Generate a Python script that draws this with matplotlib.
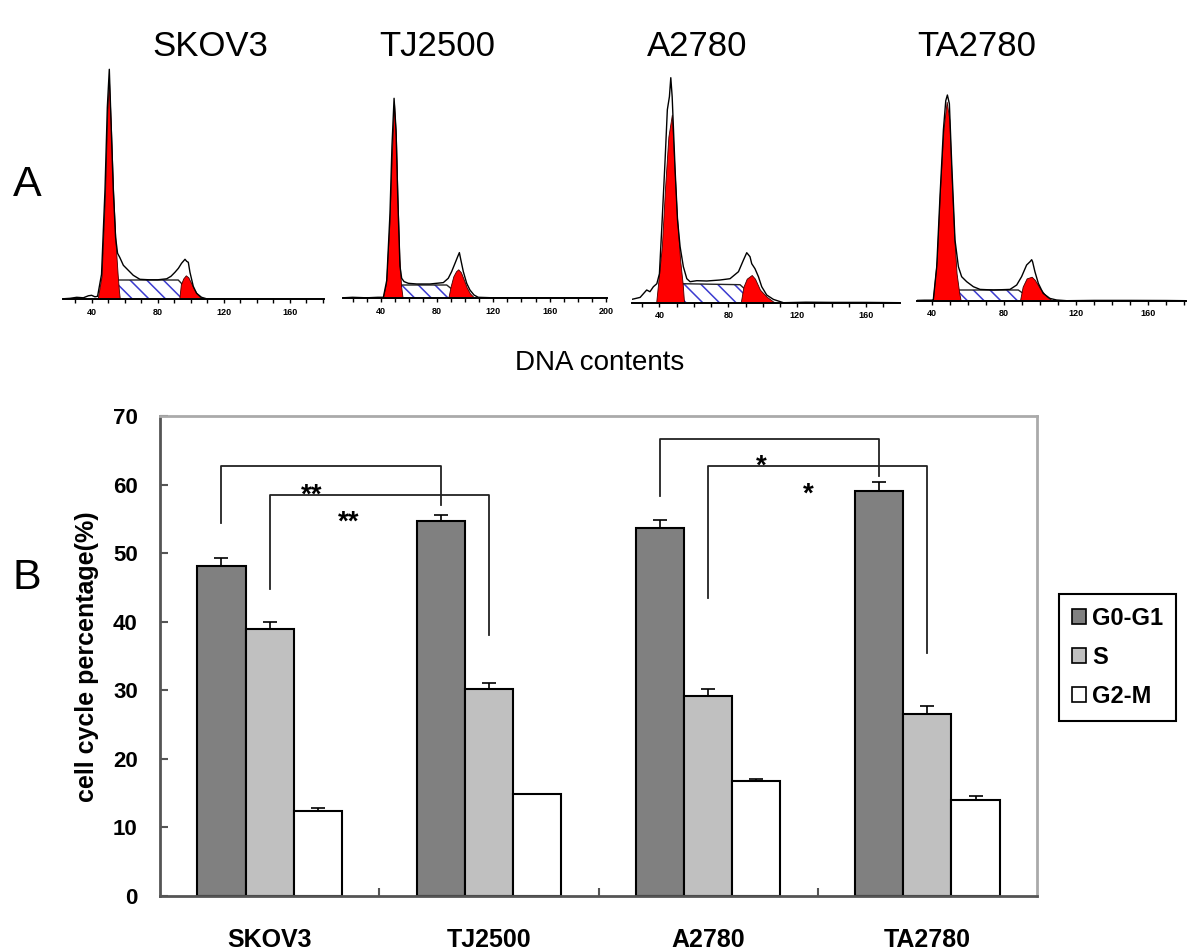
import matplotlib
matplotlib.use("Agg")
import matplotlib.pyplot as plt
from matplotlib.patches import Patch
from matplotlib.ticker import MultipleLocator

plt.rcParams['font.family'] = ['Liberation Sans', 'DejaVu Sans']
plt.rcParams['hatch.linewidth'] = 1.1

# ---------------- data: panel B (bar chart) ----------------
cell_lines = ['SKOV3', 'TJ2500', 'A2780', 'TA2780']
phases = ['G0-G1', 'S', 'G2-M']
g0g1 = [48.1, 54.7, 53.6, 59.0]
g0g1_err = [1.2, 0.9, 1.2, 1.4]
s_phase = [38.9, 30.2, 29.2, 26.6]
s_err = [1.1, 0.9, 1.0, 1.1]
g2m = [12.4, 14.9, 16.8, 14.0]
g2m_err = [0.5, 0.0, 0.2, 0.6]
y_ticks = [0, 10, 20, 30, 40, 50, 60, 70]

# significance brackets: (group a, phase, group b, phase, top, left end, right end)
brackets = [
    (0, 0, 1, 0, 62.7, 54.4, 57.0),
    (0, 1, 1, 1, 58.5, 44.8, 38.1),
    (2, 0, 3, 0, 66.6, 58.4, 61.3),
    (2, 1, 3, 1, 62.7, 43.5, 35.4),
]
stars = [('**', 0.19, 59.8), ('**', 0.36, 55.9), ('*', 2.243, 64.0), ('*', 2.456, 59.9)]

# ---------------- data: panel A (DNA histograms, channel vs counts) ----------------
hist_titles = ['SKOV3', 'TJ2500', 'A2780', 'TA2780']

skov3_raw_x = [22.5, 27, 31, 35, 38, 40, 42, 43.6, 46.0, 48.1, 49.5, 50.7, 51.7, 53.1, 54.5, 55.7, 57.0, 59.2,
               62.2, 65.2, 69.2, 75.0, 80.0, 85.4, 88.0, 90.4, 92.5, 94.4, 96.5, 97.5, 98.5, 99.5, 101.5, 103.5,
               106.5, 109.6, 115, 130, 150, 180.6]
skov3_raw_y = [0.5, 1.0, 2.0, 1.5, 3.5, 4.0, 2.5, 3.0, 25, 110, 192, 230, 180, 110, 62, 46, 42, 34,
               29, 24, 20, 19.5, 19.5, 20.5, 23, 27, 31, 36, 40, 38, 37, 27, 13, 6,
               2, 0.5, 0.3, 0.2, 0.1, 0]
skov3_g1_x = [43.6, 46.0, 48.1, 49.5, 50.5, 51.7, 53.1, 54.5, 55.7, 56.5, 57.1]
skov3_g1_y = [0, 23, 106, 189, 219, 173, 106, 56, 26, 9, 0]
skov3_s_x = [48.1, 55.1, 92.4, 103.5]
skov3_s_y = [0, 19.3, 19.3, 0]
skov3_g2_x = [93.0, 94.0, 95.5, 97.0, 98.5, 100.0, 102.0, 104.0, 106.0, 108.0]
skov3_g2_y = [0, 15, 21, 24, 22, 17, 10, 5, 1.5, 0]

tj2500_raw_x = [13, 20, 30, 38, 41.9, 44.3, 46.6, 48.0, 49.5, 50.9, 52.1, 53.7, 54.9, 56.6, 59.6, 65.6, 75.0,
                84.5, 88.0, 90.4, 92.8, 94.7, 95.9, 97.0, 98.7, 101.1, 103.4, 106.3, 109.3, 120, 140, 160, 180, 201]
tj2500_raw_y = [0.5, 1, 0.5, 1, 1, 18, 85, 152, 200, 168, 102, 32, 20, 16.7, 15, 14.3, 14.3,
                15.7, 20, 26.7, 35, 41.7, 45.7, 38, 26.7, 15, 8.3, 3.3, 1, 0.5, 0.5, 0.3, 0.2, 0]
tj2500_g1_x = [41.4, 43.8, 46.2, 47.8, 49.5, 50.9, 52.1, 53.3, 54.5, 55.6]
tj2500_g1_y = [0, 15, 75, 140, 195, 160, 95, 40, 12, 0]
tj2500_s_x = [49.0, 54.9, 86.9, 98.7]
tj2500_s_y = [0, 13.3, 13.3, 0]
tj2500_g2_x = [88.0, 89.7, 91.6, 93.5, 95.1, 97.0, 98.7, 101.1, 103.4, 105.8, 107.7]
tj2500_g2_y = [0, 12, 22, 27, 29, 26, 20, 11, 5, 1.5, 0]

a2780_raw_x = [23.9, 28.8, 32.6, 34.5, 36.5, 38.5, 40, 41.4, 43.3, 44.6, 45.8, 46.6, 47.4, 48.1, 49.1, 50.5,
               52.0, 53.9, 55.9, 57.8, 61.7, 67.5, 75.2, 81.0, 85.9, 88.8, 90.7, 92.6, 93.6, 95.5, 97.5, 99.4,
               102.3, 106.2, 112.0, 125, 140, 160, 179.7]
a2780_raw_y = [3.3, 5.3, 12.7, 11, 16, 19, 29, 76, 143, 193, 206, 225, 206, 176, 133, 83,
               56, 36, 24, 21, 22, 21.7, 22.7, 24, 31, 42.7, 50, 46, 39, 34, 26, 16,
               7.7, 3.3, 0, 0.5, 0.3, 0.3, 0]
a2780_g1_x = [38.1, 41.4, 43.3, 45.2, 47.2, 48.5, 50.1, 52.0, 53.5, 54.3]
a2780_g1_y = [0, 56, 116, 166, 188, 143, 89, 43, 19, 0]
a2780_s_x = [46.2, 53.0, 86.8, 98.4]
a2780_s_y = [0, 19, 18, 0]
a2780_g2_x = [87.2, 88.8, 90.7, 93.6, 95.5, 98.4, 102.3, 106.2, 108.1]
a2780_g2_y = [0, 16, 24, 27.7, 24, 13, 6, 1, 0]

ta2780_raw_x = [31.7, 36, 40.0, 40.9, 42.8, 44.6, 46.5, 47.8, 48.7, 49.8, 51.1, 52.9, 54.8, 56.6, 59.4, 63.1,
                66.8, 74.2, 83.4, 87.1, 89.8, 92.6, 94.5, 95.4, 95.9, 97.2, 99.1, 101.8, 105.5, 109.2, 114.8,
                130, 150, 170, 180.9]
ta2780_raw_y = [0.3, 0.5, 0.5, 1, 34, 104, 171, 200, 205.7, 197, 137, 61, 34, 24, 19, 14,
                11.3, 10.7, 11.3, 15.7, 24, 35.7, 39, 41, 39, 29, 17.3, 7.3, 2.3, 0.7, 0,
                0.3, 0.3, 0.2, 0]
ta2780_g1_x = [40.6, 42.8, 44.6, 46.5, 48.3, 49.8, 51.1, 52.6, 53.8, 55.3, 56.1]
ta2780_g1_y = [0, 40.7, 110.7, 170.7, 199, 180.7, 120.7, 60.7, 27.3, 7.3, 0]
ta2780_s_x = [47.4, 52.9, 88.0, 96.3]
ta2780_s_y = [0, 10.7, 10.7, 0]
ta2780_g2_x = [88.9, 90.4, 92.6, 95.4, 97.2, 100.0, 103.7, 106.5, 108.3]
ta2780_g2_y = [0, 14, 22.3, 24, 20.7, 12.3, 4, 0.7, 0]

hist_data = [
    (skov3_raw_x, skov3_raw_y, skov3_g1_x, skov3_g1_y, skov3_s_x, skov3_s_y, skov3_g2_x, skov3_g2_y),
    (tj2500_raw_x, tj2500_raw_y, tj2500_g1_x, tj2500_g1_y, tj2500_s_x, tj2500_s_y, tj2500_g2_x, tj2500_g2_y),
    (a2780_raw_x, a2780_raw_y, a2780_g1_x, a2780_g1_y, a2780_s_x, a2780_s_y, a2780_g2_x, a2780_g2_y),
    (ta2780_raw_x, ta2780_raw_y, ta2780_g1_x, ta2780_g1_y, ta2780_s_x, ta2780_s_y, ta2780_g2_x, ta2780_g2_y),
]
hist_xlims = [(22.5, 180.6), (13, 201), (23.9, 179.7), (31.7, 180.9)]
hist_ticklabels = [[40, 80, 120, 160], [40, 80, 120, 160, 200], [40, 80, 120, 160], [40, 80, 120, 160]]

# ---------------- layout (pixels in a 1200x951 canvas) ----------------
W, H = 1200, 951
fig = plt.figure(figsize=(W / 100, H / 100), dpi=100)

def fx(px):
    return px / W

def fy(py):
    return 1 - py / H

hist_boxes = [(62.7, 324.0, 299.3), (342.7, 607.3, 298.3), (631.7, 900.0, 302.7), (916.7, 1186.0, 300.7)]
hist_title_x = [210, 437, 697, 977]
HTOP = 240

for i, (x0, x1, base) in enumerate(hist_boxes):
    ax = fig.add_axes([fx(x0), fy(base), (x1 - x0) / W, HTOP / H])
    rx, ry, g1x, g1y, sx, sy, g2x, g2y = hist_data[i]
    ax.fill_between(sx, sy, 0, facecolor='white', edgecolor='#3b3bd0', hatch='\\\\', linewidth=0, zorder=1)
    ax.plot(sx, sy, color='#222222', lw=1.0, zorder=1.5)
    ax.fill_between(g1x, g1y, 0, facecolor='#ff0000', edgecolor='#400000', linewidth=0.6, zorder=2)
    ax.fill_between(g2x, g2y, 0, facecolor='#ff0000', edgecolor='#400000', linewidth=0.6, zorder=2)
    ax.plot(rx, ry, color='black', lw=1.0, zorder=3)
    ax.set_xlim(*hist_xlims[i])
    ax.set_ylim(0, HTOP)
    for sp in ['left', 'right', 'top']:
        ax.spines[sp].set_visible(False)
    ax.spines['bottom'].set_linewidth(1.4)
    ax.set_yticks([])
    ax.set_xticks(hist_ticklabels[i])
    ax.set_xticklabels([str(v) for v in hist_ticklabels[i]], fontsize=6.5, fontweight='bold')
    ax.xaxis.set_minor_locator(MultipleLocator(10))
    ax.tick_params(axis='x', which='both', direction='out', length=3, width=1, pad=3)
    ax.patch.set_alpha(0)
    fig.text(fx(hist_title_x[i]), fy(46), hist_titles[i], fontsize=25, ha='center', va='center')

fig.text(fx(27), fy(185), 'A', fontsize=31, ha='center', va='center')
fig.text(fx(27), fy(578), 'B', fontsize=31, ha='center', va='center')
fig.text(fx(600), fy(363), 'DNA contents', fontsize=20, ha='center', va='center')

# ---------------- panel B ----------------
axL, axR, axT, axB = 160, 1037, 416, 896
ax = fig.add_axes([fx(axL), fy(axB), (axR - axL) / W, (axB - axT) / H])
bw = 0.22
xs = list(range(len(cell_lines)))
series = [(g0g1, g0g1_err, '#808080'), (s_phase, s_err, '#c0c0c0'), (g2m, g2m_err, '#ffffff')]
for k, (vals, errs, col) in enumerate(series):
    pos = [x + (k - 1) * bw for x in xs]
    ax.bar(pos, vals, width=bw, color=col, edgecolor='black', linewidth=1.5, zorder=2, label=phases[k])
    ax.errorbar(pos, vals, yerr=[[0] * len(errs), errs], fmt='none', ecolor='black',
                elinewidth=1.2, capsize=5, capthick=1.2, zorder=3)

for (ga, pa, gb, pb, top, yl, yr) in brackets:
    xa = ga + (pa - 1) * bw
    xb = gb + (pb - 1) * bw
    ax.plot([xa, xa, xb, xb], [yl, top, top, yr], color='#222222', lw=1.3, zorder=4)

for txt, x, y in stars:
    ax.text(x, y - 2.4, txt, fontsize=20, fontweight='bold', ha='center', va='baseline', zorder=5)

ax.set_xlim(-0.5, len(cell_lines) - 0.5)
ax.set_ylim(0, 70)
ax.set_yticks(y_ticks)
ax.set_yticklabels([str(v) for v in y_ticks], fontsize=16, fontweight='bold')
ax.set_xticks(xs)
ax.set_xticklabels(cell_lines, fontsize=18, fontweight='bold')
ax.set_xticks([x + 0.5 for x in xs[:-1]], minor=True)
ax.tick_params(axis='x', which='major', length=0, pad=23)
ax.tick_params(axis='x', which='minor', direction='in', length=6, width=1.5, color='#555555')
ax.tick_params(axis='y', direction='in', length=6, width=1.5, color='#555555', pad=16)
ax.spines['left'].set_color('#555555')
ax.spines['bottom'].set_color('#555555')
ax.spines['top'].set_color('#aaaaaa')
ax.spines['right'].set_color('#aaaaaa')
for sp in ax.spines.values():
    sp.set_linewidth(2)

fig.text(fx(87), fy(657), 'cell cycle percentage(%)', rotation=90, fontsize=18, fontweight='bold',
         ha='center', va='center')

handles = [Patch(facecolor=c, edgecolor='black', linewidth=1.2) for (_, _, c) in series]
leg = fig.legend(handles, phases, loc='upper left', bbox_to_anchor=(fx(1059), fy(594)),
                 bbox_transform=fig.transFigure, frameon=True, fancybox=False, framealpha=1,
                 edgecolor='black', prop={'size': 17, 'weight': 'bold'},
                 handlelength=0.6, handleheight=0.6, handletextpad=0.25, labelspacing=0.68,
                 borderpad=0.55, borderaxespad=0)
leg.get_frame().set_linewidth(1.5)

fig.savefig('out.png', dpi=100)
